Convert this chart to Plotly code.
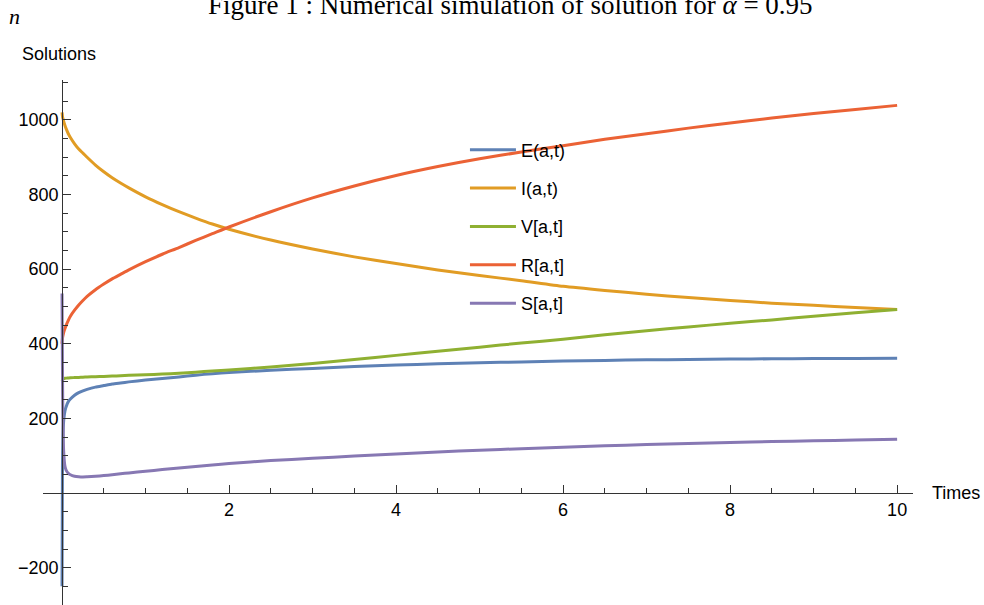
import plotly.graph_objects as go

# time grid
t = [0, 0.005, 0.01, 0.02, 0.035, 0.05, 0.075, 0.1, 0.15, 0.2, 0.25, 0.3, 0.4, 0.5,
     0.6, 0.7, 0.8, 1.0, 1.2, 1.4, 1.6, 1.8, 2.0, 2.5, 3.0, 3.5, 4.0, 4.5, 5.0,
     5.5, 6.0, 6.5, 7.0, 7.5, 8.0, 8.5, 9.0, 9.5, 10.0]

E_vals = [-250, 70, 150, 195, 220, 232, 245, 252, 262, 269, 274, 278, 284, 288,
          292, 295, 298, 303, 307, 311, 316, 320, 323, 329, 334, 339, 343, 346.5, 349,
          351.5, 354, 355.5, 357, 358, 359, 359.8, 360.4, 360.8, 361]
I_vals = [1020, 1010, 1004, 996, 985, 976, 963, 953, 936, 922, 911, 900, 879, 861,
          845, 831, 818, 794, 773, 754, 737, 721, 707, 678, 654, 633, 615, 598, 583,
          569, 554, 543, 533, 524, 516, 509, 503, 497, 492]
V_vals = [300, 303, 305, 306.5, 307.5, 308, 308.5, 309, 309.5, 310, 310.5, 311, 312, 312.5,
          313.5, 314.5, 315.5, 317, 319, 321, 324, 327, 330, 338, 347, 358, 369, 380, 391,
          402, 412, 424, 435, 445, 455, 464, 474, 483, 492]
R_vals = [400, 415, 421, 431, 441, 450, 463, 474, 490, 504, 516, 527, 545, 560,
          574, 586, 598, 620, 640, 658, 677, 695, 713, 754, 791, 823, 851, 875, 896,
          914, 931, 948, 963, 978, 992, 1005, 1017, 1028, 1039]
S_vals = [535, 340, 200, 110, 72, 61, 53, 49, 45, 43.5, 43, 43.5, 45, 47,
          49, 51.5, 54, 58.5, 63, 67, 71, 75, 79, 87, 93, 99, 104.5, 110, 115,
          119, 123, 126.5, 130, 133, 135.5, 138, 140, 142, 144]

names = ["E(a,t)", "I(a,t)", "V[a,t]", "R[a,t]", "S[a,t]"]
series = [E_vals, I_vals, V_vals, R_vals, S_vals]
colors = ["#5E81B5", "#E19C24", "#8FB032", "#EB6235", "#8778B3"]

x_ticks = [2, 4, 6, 8, 10]
y_ticks = [-200, 200, 400, 600, 800, 1000]

x_range = [-0.228, 10.19]
y_range = [-300, 1107]

FONT = "Liberation Sans, Arial, sans-serif"
SERIF = "Liberation Serif, Times New Roman, serif"

fig = go.Figure()
for n, v, c in zip(names, series, colors):
    fig.add_trace(go.Scatter(x=t, y=v, mode="lines", name=n, legendgroup=n,
                             line=dict(color=c, width=3, shape="spline", smoothing=0.6)))

axis_col = "#333333"
fig.update_layout(
    width=984, height=605,
    margin=dict(l=43, r=71, t=80, b=0, autoexpand=False),
    plot_bgcolor="white", paper_bgcolor="white",
    font=dict(family=FONT, size=18, color="black"),
    xaxis=dict(range=x_range, anchor="free",
               position=(0 - y_range[0]) / (y_range[1] - y_range[0]),
               showgrid=False, zeroline=False, showline=True, linecolor=axis_col, linewidth=1,
               tickmode="array", tickvals=x_ticks, ticks="inside", ticklen=8, tickcolor=axis_col,
               tickfont=dict(family=FONT, size=18, color="black"),
               minor=dict(tickmode="linear", tick0=0, dtick=0.5, ticks="inside", ticklen=5,
                          tickcolor=axis_col),
               automargin=False, fixedrange=True),
    yaxis=dict(range=y_range, anchor="free",
               position=(0 - x_range[0]) / (x_range[1] - x_range[0]),
               showgrid=False, zeroline=False, showline=True, linecolor=axis_col, linewidth=1,
               tickmode="array", tickvals=y_ticks, ticks="inside", ticklen=8, tickcolor=axis_col,
               tickfont=dict(family=FONT, size=18, color="black"),
               minor=dict(tickmode="linear", tick0=0, dtick=50, ticks="inside", ticklen=5,
                          tickcolor=axis_col),
               automargin=False, fixedrange=True),
    legend=dict(x=0.485, y=0.902, xanchor="left", yanchor="top",
                bgcolor="rgba(0,0,0,0)", traceorder="grouped", tracegroupgap=12,
                itemwidth=46,
                font=dict(family=FONT, size=18, color="black")),
    showlegend=True,
)

fig.add_annotation(text="Figure 1 : Numerical simulation of solution for <i>α</i> = 0.95",
                   xref="paper", yref="paper", x=(511 - 43) / 870, y=(605 - 5) / 525,
                   xanchor="center", yanchor="middle", showarrow=False,
                   font=dict(family=SERIF, size=27, color="black"))
fig.add_annotation(text="<i>n</i>", xref="paper", yref="paper",
                   x=(14 - 43) / 870, y=(605 - 17) / 525, xanchor="center", yanchor="middle",
                   showarrow=False, font=dict(family=SERIF, size=22, color="black"))
fig.add_annotation(text="Solutions", xref="paper", yref="paper",
                   x=(20 - 43) / 870, y=(605 - 54) / 525, xanchor="left", yanchor="middle",
                   showarrow=False, font=dict(family=FONT, size=18, color="black"))
fig.add_annotation(text="Times", xref="paper", yref="paper",
                   x=(930 - 43) / 870, y=(605 - 493) / 525, xanchor="left", yanchor="middle",
                   showarrow=False, font=dict(family=FONT, size=18, color="black"))

fig.write_html("out.html", config={"displayModeBar": False},
               post_script="document.body.style.margin='0px';")
